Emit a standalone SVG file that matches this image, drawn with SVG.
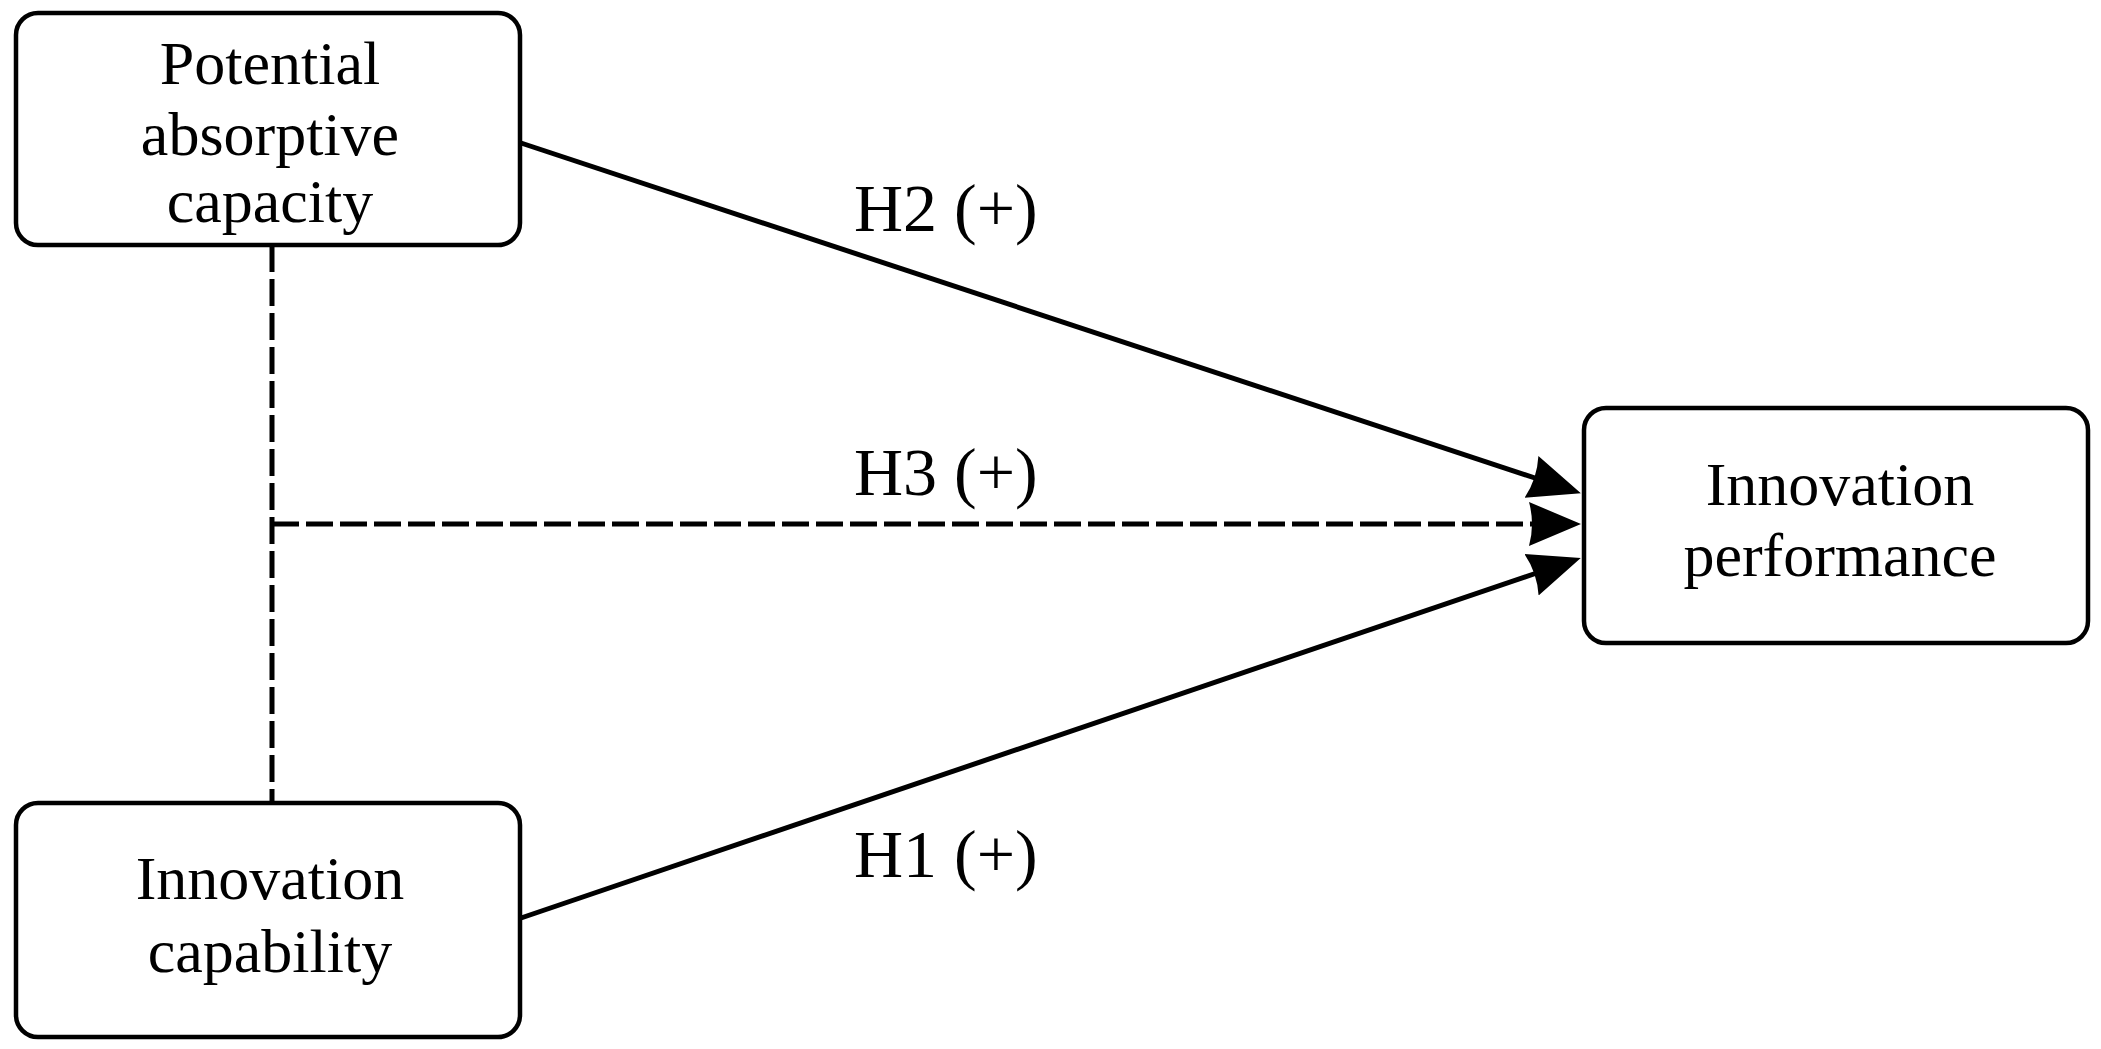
<svg xmlns="http://www.w3.org/2000/svg" width="2101" height="1049" viewBox="0 0 2101 1049">
  <style>
    .box { fill: #ffffff; stroke: #000000; stroke-width: 4.5; }
    .node-text { font-family: "Liberation Serif", "Times New Roman", serif; font-size: 62px; fill: #000000; text-anchor: middle; }
    .edge-text { font-family: "Liberation Serif", "Times New Roman", serif; font-size: 68px; fill: #000000; }
    .conn { fill: none; stroke: #000000; stroke-width: 5; }
    .dashed { stroke-dasharray: 27 7; }
  </style>
  <defs>
    <marker id="arrow" markerUnits="userSpaceOnUse" markerWidth="60" markerHeight="50" viewBox="0 -25 60 50" refX="10" refY="0" orient="auto">
      <path d="M0,-22 L52,0 L0,22 Q6,0 0,-22 Z" fill="#000000" stroke="none"/>
    </marker>
  </defs>
  <rect width="2101" height="1049" fill="#ffffff"/>

  <g id="connectors">
    <path class="conn dashed" d="M272,245 L272,803"/>
    <path class="conn dashed" d="M272,524 L1539,524" marker-end="url(#arrow)"/>
    <path class="conn" d="M521,143 L1541,480" marker-end="url(#arrow)"/>
    <path class="conn" d="M521,918 L1541,571.5" marker-end="url(#arrow)"/>
    <text class="edge-text" x="854" y="231">H2 (+)</text>
    <text class="edge-text" x="854" y="495">H3 (+)</text>
    <text class="edge-text" x="854" y="877">H1 (+)</text>
  </g>

  <g id="node-pac">
    <rect class="box" x="16" y="13" width="504" height="232" rx="22" ry="22"/>
    <text class="node-text" x="270" y="84">Potential</text>
    <text class="node-text" x="270" y="155">absorptive</text>
    <text class="node-text" x="270" y="222">capacity</text>
  </g>

  <g id="node-ic">
    <rect class="box" x="16" y="803" width="504" height="234" rx="22" ry="22"/>
    <text class="node-text" x="270" y="899">Innovation</text>
    <text class="node-text" x="270" y="972">capability</text>
  </g>

  <g id="node-ip">
    <rect class="box" x="1584" y="408" width="504" height="235" rx="22" ry="22"/>
    <text class="node-text" x="1840" y="505">Innovation</text>
    <text class="node-text" x="1840" y="576">performance</text>
  </g>
</svg>
